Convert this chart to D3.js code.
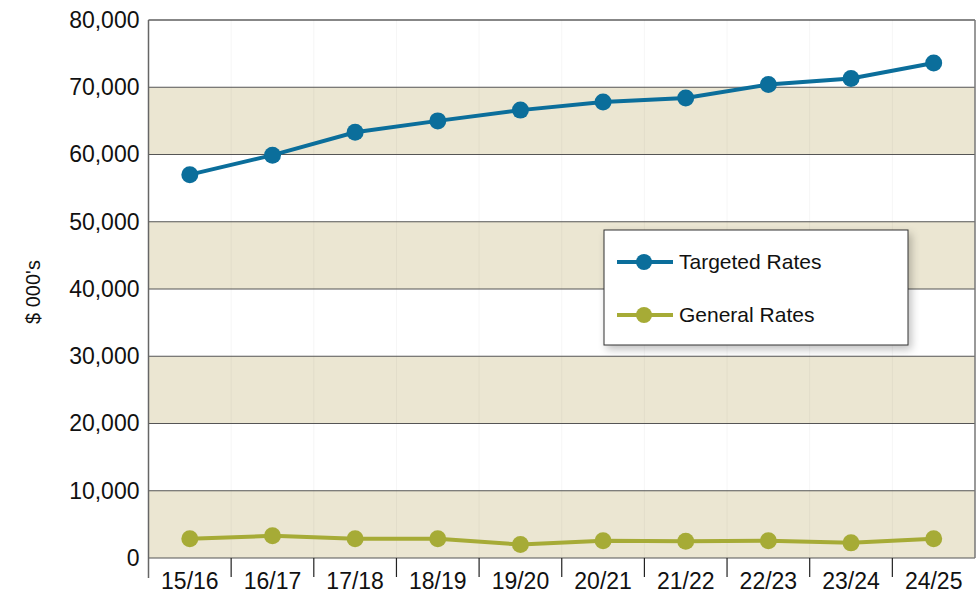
<!DOCTYPE html>
<html><head><meta charset="utf-8">
<script src="https://cdn.jsdelivr.net/npm/d3@7"></script>
<style>body{margin:0;background:#fff;} text{font-family:"Liberation Sans",Arial,Helvetica,sans-serif;}</style>
</head><body>
<svg id="chart" width="979" height="600"></svg>
<script>
const categories = ["15/16","16/17","17/18","18/19","19/20","20/21","21/22","22/23","23/24","24/25"];
const targetedRates = [57000, 59900, 63300, 65000, 66600, 67800, 68400, 70400, 71300, 73600];
const generalRates = [2850, 3300, 2850, 2850, 2000, 2550, 2500, 2550, 2250, 2850];
const yTicks = [0,10000,20000,30000,40000,50000,60000,70000,80000];
const seriesNames = ["Targeted Rates","General Rates"];
const seriesColors = ["#0b6e9b","#a6ab36"];

const svg = d3.select("#chart");
const L = 148.5, R = 975, T = 20, B = 558;
const x = d3.scaleBand().domain(categories).range([L, R]);
const y = d3.scaleLinear().domain([0, 80000]).range([B, T]);

const defs = svg.append("defs");
const f = defs.append("filter").attr("id","sh").attr("x","-20%").attr("y","-20%").attr("width","150%").attr("height","160%");
f.append("feGaussianBlur").attr("in","SourceAlpha").attr("stdDeviation",4).attr("result","b");
f.append("feOffset").attr("in","b").attr("dx",3).attr("dy",4).attr("result","o");
f.append("feComponentTransfer").attr("in","o").attr("result","oc").append("feFuncA").attr("type","linear").attr("slope",0.25);
const m = f.append("feMerge"); m.append("feMergeNode").attr("in","oc"); m.append("feMergeNode").attr("in","SourceGraphic");

// bands
for (let i = 0; i < yTicks.length - 1; i++) {
  if (i % 2 === 0) {
    svg.append("rect").attr("x", L).attr("width", R - L)
      .attr("y", y(yTicks[i+1])).attr("height", y(yTicks[i]) - y(yTicks[i+1]))
      .attr("fill", "#ebe6d2");
  }
}
// vertical faint grid
categories.slice(1).forEach(c => {
  svg.append("line").attr("x1", x(c)).attr("x2", x(c)).attr("y1", T).attr("y2", B)
    .attr("stroke", "#000").attr("stroke-opacity", 0.04).attr("stroke-width", 1);
});
// horizontal grid
yTicks.forEach(t => {
  svg.append("line").attr("x1", L).attr("x2", R).attr("y1", y(t)).attr("y2", y(t))
    .attr("stroke", t === 80000 ? "#111" : "#555").attr("stroke-width", 1.2);
});
// borders
svg.append("line").attr("x1", R).attr("x2", R).attr("y1", T).attr("y2", B).attr("stroke", "#777").attr("stroke-width", 1.5);
svg.append("line").attr("x1", L).attr("x2", L).attr("y1", T).attr("y2", 578).attr("stroke", "#666").attr("stroke-width", 1.5);

// y axis labels
const gy = svg.append("g").attr("transform", `translate(${L},0)`)
  .call(d3.axisLeft(y).tickValues(yTicks).tickSize(0).tickPadding(9).tickFormat(d3.format(",")));
gy.select(".domain").remove();
gy.selectAll("text").attr("font-size", 23).attr("fill", "#111").attr("font-family","Liberation Sans, Arial, sans-serif");

// x axis
const gx = svg.append("g").attr("transform", `translate(0,${B})`)
  .call(d3.axisBottom(x).tickSize(0).tickPadding(15));
gx.select(".domain").remove();
gx.selectAll("text").attr("font-size", 23).attr("fill", "#111").attr("font-family","Liberation Sans, Arial, sans-serif");
categories.slice(1).forEach(c => {
  svg.append("line").attr("x1", x(c)).attr("x2", x(c)).attr("y1", B).attr("y2", 577)
    .attr("stroke", "#222").attr("stroke-width", 1.2);
});

// y title
svg.append("text").attr("transform", "translate(40,292) rotate(-90)")
  .attr("text-anchor", "middle").attr("font-size", 20).attr("fill", "#111").text("$ 000's");

// lines
const cx = d => x(d) + x.bandwidth() / 2;
[targetedRates, generalRates].forEach((vals, si) => {
  const data = vals.map((v, i) => [categories[i], v]);
  svg.append("path").datum(data)
    .attr("d", d3.line().x(d => cx(d[0])).y(d => y(d[1])))
    .attr("fill", "none").attr("stroke", seriesColors[si]).attr("stroke-width", 4);
  svg.selectAll(null).data(data).enter().append("circle")
    .attr("cx", d => cx(d[0])).attr("cy", d => y(d[1])).attr("r", 8.5)
    .attr("fill", seriesColors[si]);
});

// legend
const lg = svg.append("g").attr("transform", "translate(604,230)");
lg.append("rect").attr("width", 304).attr("height", 115).attr("fill", "#fff")
  .attr("stroke", "#333").attr("stroke-width", 1).attr("filter", "url(#sh)");
seriesNames.forEach((n, i) => {
  const yy = 32 + i * 53;
  lg.append("line").attr("x1", 13).attr("x2", 69).attr("y1", yy).attr("y2", yy)
    .attr("stroke", seriesColors[i]).attr("stroke-width", 4);
  lg.append("circle").attr("cx", 40).attr("cy", yy).attr("r", 8).attr("fill", seriesColors[i]);
  lg.append("text").attr("x", 75).attr("y", yy).attr("dy", "0.35em")
    .attr("font-size", 21).attr("fill", "#111").text(n);
});
</script>
</body></html>
